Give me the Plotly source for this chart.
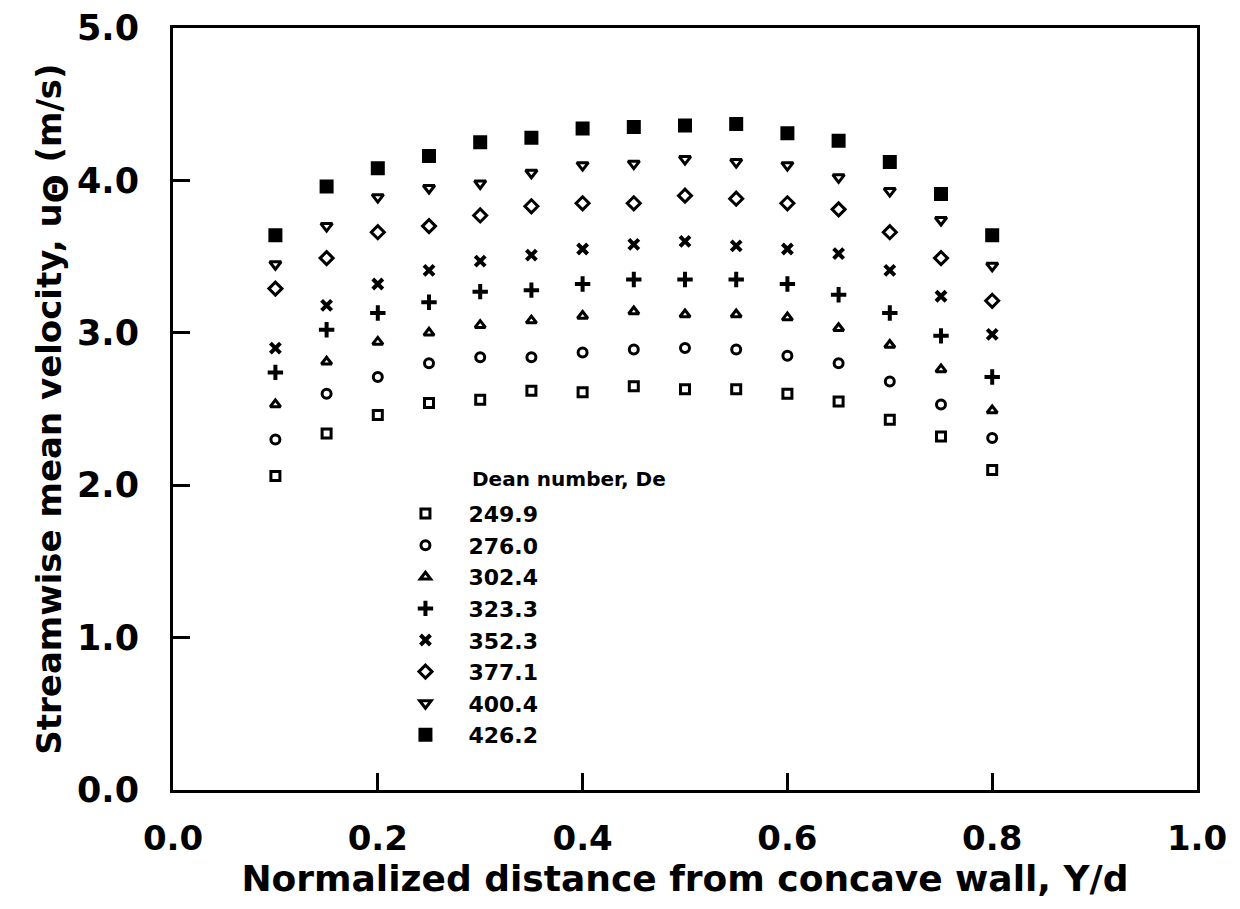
import plotly.graph_objects as go

# normalized distance Y/d
yd = [0.10, 0.15, 0.20, 0.25, 0.30, 0.35, 0.40, 0.45, 0.50, 0.55, 0.60, 0.65, 0.70, 0.75, 0.80]

dean_labels = ["249.9", "276.0", "302.4", "323.3", "352.3", "377.1", "400.4", "426.2"]

u_249 = [2.06, 2.34, 2.46, 2.54, 2.56, 2.62, 2.61, 2.65, 2.63, 2.63, 2.60, 2.55, 2.43, 2.32, 2.10]
u_276 = [2.30, 2.60, 2.71, 2.80, 2.84, 2.84, 2.87, 2.89, 2.90, 2.89, 2.85, 2.80, 2.68, 2.53, 2.31]
u_302 = [2.53, 2.81, 2.94, 3.00, 3.05, 3.08, 3.11, 3.14, 3.12, 3.12, 3.10, 3.03, 2.92, 2.76, 2.49]
u_323 = [2.74, 3.02, 3.13, 3.20, 3.27, 3.28, 3.32, 3.35, 3.35, 3.35, 3.32, 3.25, 3.13, 2.98, 2.71]
u_352 = [2.90, 3.18, 3.32, 3.41, 3.47, 3.51, 3.55, 3.58, 3.60, 3.57, 3.55, 3.52, 3.41, 3.24, 2.99]
u_377 = [3.29, 3.49, 3.66, 3.70, 3.77, 3.83, 3.85, 3.85, 3.90, 3.88, 3.85, 3.81, 3.66, 3.49, 3.21]
u_400 = [3.45, 3.70, 3.89, 3.95, 3.98, 4.05, 4.10, 4.11, 4.14, 4.12, 4.10, 4.02, 3.93, 3.74, 3.44]
u_426 = [3.64, 3.96, 4.08, 4.16, 4.25, 4.28, 4.34, 4.35, 4.36, 4.37, 4.31, 4.26, 4.12, 3.91, 3.64]

series = [u_249, u_276, u_302, u_323, u_352, u_377, u_400, u_426]
symbols = ["square-open", "circle-open", "triangle-up-open", "cross-thin",
           "x-thin", "diamond-open", "triangle-down-open", "square"]
sizes = [9, 9, 9, 11, 10, 10, 10, 11]
widths = [3, 3, 3, 4, 4, 3, 3, 3]

FONT = "DejaVu Sans"

fig = go.Figure()
for vals, lab, sym, sz, lw in zip(series, dean_labels, symbols, sizes, widths):
    fig.add_trace(go.Scatter(
        x=yd, y=vals, mode="markers", name="\u00a0\u00a0\u00a0" + lab,
        marker=dict(symbol=sym, size=sz, color="black",
                    line=dict(color="black", width=lw)),
    ))

fig.add_annotation(text="<b>Dean number, De</b>", xref="paper", yref="paper",
                   x=0.29, y=0.408, xanchor="left", yanchor="middle",
                   showarrow=False, font=dict(family=FONT, size=20, color="black"))

axis_common = dict(showline=True, linecolor="black", linewidth=3, mirror=True,
                   showgrid=False, zeroline=False, ticks="inside", tickwidth=3,
                   tickcolor="black", ticklen=17, automargin=False)

fig.update_xaxes(range=[0, 1.0], tickvals=[0, 0.2, 0.4, 0.6, 0.8, 1.0],
                 ticktext=["0.0", "0.2", "0.4", "0.6", "0.8", "1.0"],
                 ticklabelstandoff=16,
                 tickfont=dict(family=FONT, size=34, color="black", weight="bold"),
                 title=dict(text="<b>Normalized distance from concave wall, Y/d</b>",
                            font=dict(family=FONT, size=36, color="black"), standoff=10),
                 **axis_common)
fig.update_yaxes(range=[0, 5.0], tickvals=[0, 1, 2, 3, 4, 5],
                 ticktext=["0.0", "1.0", "2.0", "3.0", "4.0", "5.0"],
                 ticklabelstandoff=24,
                 tickfont=dict(family=FONT, size=35, color="black", weight="bold"),
                 title=dict(text="<b>Streamwise mean velocity, u<sub><span style='font-size:34px'>Θ</span></sub> (m/s)</b>",
                            font=dict(family=FONT, size=34, color="black"), standoff=6),
                 **axis_common)

fig.update_layout(
    width=1240, height=909,
    margin=dict(l=165, r=51, t=20, b=127),
    paper_bgcolor="white", plot_bgcolor="white",
    showlegend=True,
    legend=dict(x=0.227, y=0.39, xanchor="left", yanchor="top",
                font=dict(family=FONT, size=22, color="black", weight="bold"),
                bgcolor="rgba(0,0,0,0)", itemsizing="trace"),
)

fig.write_html("out.html")
